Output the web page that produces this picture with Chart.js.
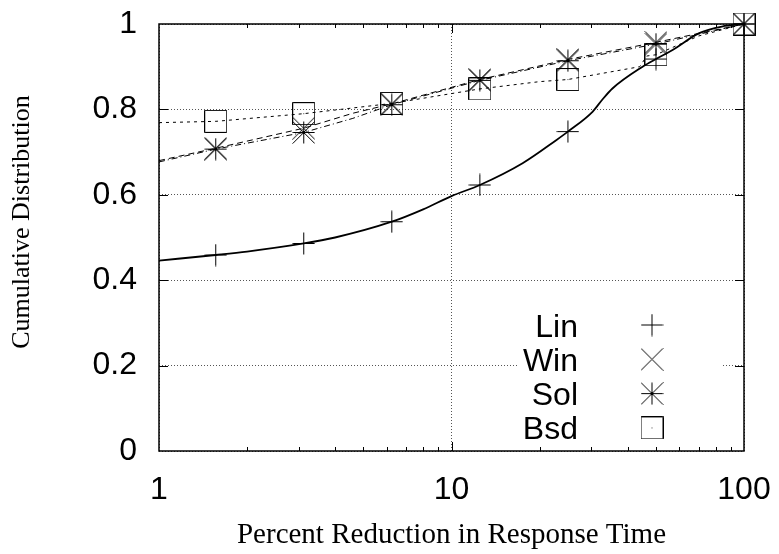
<!DOCTYPE html>
<html>
<head>
<meta charset="utf-8">
<script src="https://cdn.jsdelivr.net/npm/chart.js@4/dist/chart.umd.min.js"></script>
<style>
    html, body { margin: 0; padding: 0; background: #fff; }
    canvas { display: block; }
</style>
</head>
<body>
<canvas id="cdfChart" width="779" height="554"></canvas>
<script>
// Cumulative distribution of response time reduction (log x axis)

const seriesNames = ['Lin', 'Win', 'Sol', 'Bsd'];
const markerX = [1.5625, 3.125, 6.25, 12.5, 25, 50, 100];

const xTicks = [1, 10, 100];
const xMinorTicks = [2, 3, 4, 5, 6, 7, 8, 9, 20, 30, 40, 50, 60, 70, 80, 90];
const yTicks = [0, 0.2, 0.4, 0.6, 0.8, 1];

const linX = [1, 1.5625, 2, 3.125, 4, 6.25, 8, 10, 12.5, 17.5, 22.8, 25, 30.4, 32.7, 35.5, 45, 50, 57, 70, 84, 100];
const linY = [0.446, 0.459, 0.467, 0.486, 0.500, 0.537, 0.566, 0.597, 0.623, 0.674, 0.728, 0.748, 0.795, 0.822, 0.849, 0.900, 0.918, 0.939, 0.978, 0.994, 1.0];

const winX = [1, 1.5625, 3.125, 4.6, 6.25, 12.5, 25, 50, 100];
const winY = [0.680, 0.709, 0.756, 0.791, 0.813, 0.870, 0.917, 0.957, 1.0];

const solX = [1, 1.5625, 3.125, 4.6, 6.25, 12.5, 25, 50, 100];
const solY = [0.677, 0.707, 0.746, 0.779, 0.811, 0.868, 0.914, 0.953, 1.0];

const bsdX = [1, 1.5625, 3.125, 6.25, 12.5, 20, 25, 44, 46.5, 50, 70, 100];
const bsdY = [0.769, 0.772, 0.790, 0.814, 0.848, 0.865, 0.870, 0.900, 0.925, 0.928, 0.972, 1.0];

// gnuplot-like point symbols, drawn once on small canvases
function makeMarker(kind) {
    const size = 23;
    const c = document.createElement('canvas');
    c.width = size;
    c.height = size;
    const g = c.getContext('2d');
    g.strokeStyle = '#000';
    g.lineWidth = 1;
    const a = 0.5, b = size - 0.5, m = size / 2;
    g.beginPath();
    if (kind === 'plus' || kind === 'star') {
        g.moveTo(m, a); g.lineTo(m, b);
        g.moveTo(a, m); g.lineTo(b, m);
    }
    if (kind === 'cross' || kind === 'star') {
        g.moveTo(a, a); g.lineTo(b, b);
        g.moveTo(b, a); g.lineTo(a, b);
    }
    if (kind === 'box') {
        g.rect(a, a, size - 1, size - 1);
    }
    g.stroke();
    if (kind === 'box') {
        g.fillStyle = '#444';
        g.fillRect(m - 0.5, m - 0.5, 1, 1);
    }
    return c;
}

const markers = [makeMarker('plus'), makeMarker('cross'), makeMarker('star'), makeMarker('box')];

function toPoints(xs, ys) {
    return xs.map((x, i) => ({ x: x, y: ys[i] }));
}

function markerRadius(ctx) {
    return markerX.includes(ctx.raw.x) ? 11 : 0;
}

// ticks inside the frame on all four sides, plus the frame itself
const frameTicks = {
    id: 'frameTicks',
    afterDraw(chart) {
        const { ctx, chartArea: area, scales } = chart;
        ctx.save();
        ctx.strokeStyle = '#000';
        ctx.lineWidth = 1;
        ctx.beginPath();
        yTicks.slice(1, -1).forEach(v => {
            const py = Math.round(scales.y.getPixelForValue(v)) + 0.5;
            ctx.moveTo(area.left, py); ctx.lineTo(area.left + 9, py);
            ctx.moveTo(area.right, py); ctx.lineTo(area.right - 9, py);
        });
        xTicks.slice(1, -1).forEach(v => {
            const px = Math.round(scales.x.getPixelForValue(v)) + 0.5;
            ctx.moveTo(px, area.bottom); ctx.lineTo(px, area.bottom - 9);
            ctx.moveTo(px, area.top); ctx.lineTo(px, area.top + 9);
        });
        xMinorTicks.forEach(v => {
            const px = Math.round(scales.x.getPixelForValue(v)) + 0.5;
            ctx.moveTo(px, area.bottom); ctx.lineTo(px, area.bottom - 4);
            ctx.moveTo(px, area.top); ctx.lineTo(px, area.top + 4);
        });
        ctx.stroke();
        ctx.lineWidth = 1.5;
        ctx.strokeRect(area.left, area.top, area.right - area.left, area.bottom - area.top);

        // y axis label, placed like the gnuplot ylabel
        ctx.fillStyle = '#000';
        ctx.font = '26px "Liberation Serif", "Times New Roman", serif';
        ctx.textAlign = 'center';
        ctx.textBaseline = 'middle';
        ctx.translate(22, 222);
        ctx.rotate(-Math.PI / 2);
        ctx.fillText('Cumulative Distribution', 0, 0);
        ctx.restore();
    }
};

// key placed inside the plot, bottom right
const insideKey = {
    id: 'insideKey',
    beforeDatasetsDraw(chart) {
        const { ctx, chartArea: area } = chart;
        const textRight = area.right - 166;
        const markX = area.right - 92;
        const rowTop = area.bottom - 126;
        const rowStep = 34.3;
        ctx.save();
        ctx.fillStyle = '#fff';
        ctx.fillRect(area.right - 226, area.bottom - 146, 205, 139);
        ctx.fillStyle = '#000';
        ctx.font = '32px "Liberation Sans", Arial, sans-serif';
        ctx.textAlign = 'right';
        ctx.textBaseline = 'alphabetic';
        chart.data.datasets.forEach((ds, i) => {
            const cy = rowTop + i * rowStep;
            ctx.fillText(ds.label, textRight, cy + 11.5);
            const img = markers[i];
            ctx.drawImage(img, markX - img.width / 2, cy - img.height / 2);
        });
        ctx.restore();
    }
};

const lineStyles = [
    { dash: [], width: 1.8 },
    { dash: [6, 4], width: 1 },
    { dash: [6, 3, 1, 3], width: 1 },
    { dash: [3, 4], width: 1 }
];

const seriesData = [
    toPoints(linX, linY),
    toPoints(winX, winY),
    toPoints(solX, solY),
    toPoints(bsdX, bsdY)
];

new Chart(document.getElementById('cdfChart'), {
    type: 'line',
    data: {
        datasets: seriesNames.map((name, i) => ({
            label: name,
            data: seriesData[i],
            borderColor: '#000',
            borderWidth: lineStyles[i].width,
            borderDash: lineStyles[i].dash,
            backgroundColor: '#000',
            fill: false,
            clip: false,
            cubicInterpolationMode: i === 0 ? 'monotone' : 'default',
            tension: 0,
            pointStyle: markers[i],
            pointRadius: markerRadius,
            pointHoverRadius: markerRadius
        }))
    },
    options: {
        responsive: false,
        animation: false,
        devicePixelRatio: 1,
        layout: {
            padding: { left: 0, top: 24, right: 35, bottom: 0 }
        },
        plugins: {
            legend: { display: false },
            tooltip: { enabled: false }
        },
        scales: {
            x: {
                type: 'logarithmic',
                min: 1,
                max: 100,
                afterBuildTicks: scale => {
                    scale.ticks = xTicks.map(v => ({ value: v }));
                },
                afterFit: scale => {
                    scale.height = 103;
                    scale.paddingLeft = 0;
                    scale.paddingRight = 0;
                },
                ticks: {
                    color: '#000',
                    padding: 20,
                    maxRotation: 0,
                    autoSkip: false,
                    font: { family: '"Liberation Sans", Arial, sans-serif', size: 32 },
                    callback: v => String(v)
                },
                grid: { drawTicks: false, color: '#555', lineWidth: 1 },
                border: { display: false, dash: [1, 2] },
                title: {
                    display: true,
                    text: 'Percent Reduction in Response Time',
                    color: '#000',
                    padding: { top: 0, bottom: 1 },
                    font: { family: '"Liberation Serif", "Times New Roman", serif', size: 29, weight: 'normal' }
                }
            },
            y: {
                min: 0,
                max: 1,
                afterBuildTicks: scale => {
                    scale.ticks = yTicks.map(v => ({ value: v }));
                },
                afterFit: scale => {
                    scale.width = 159;
                    scale.paddingTop = 0;
                    scale.paddingBottom = 0;
                },
                ticks: {
                    color: '#000',
                    padding: 22,
                    font: { family: '"Liberation Sans", Arial, sans-serif', size: 32 },
                    callback: v => String(v)
                },
                grid: { drawTicks: false, color: '#555', lineWidth: 1 },
                border: { display: false, dash: [1, 2] }
            }
        }
    },
    plugins: [insideKey, frameTicks]
});
</script>
</body>
</html>
